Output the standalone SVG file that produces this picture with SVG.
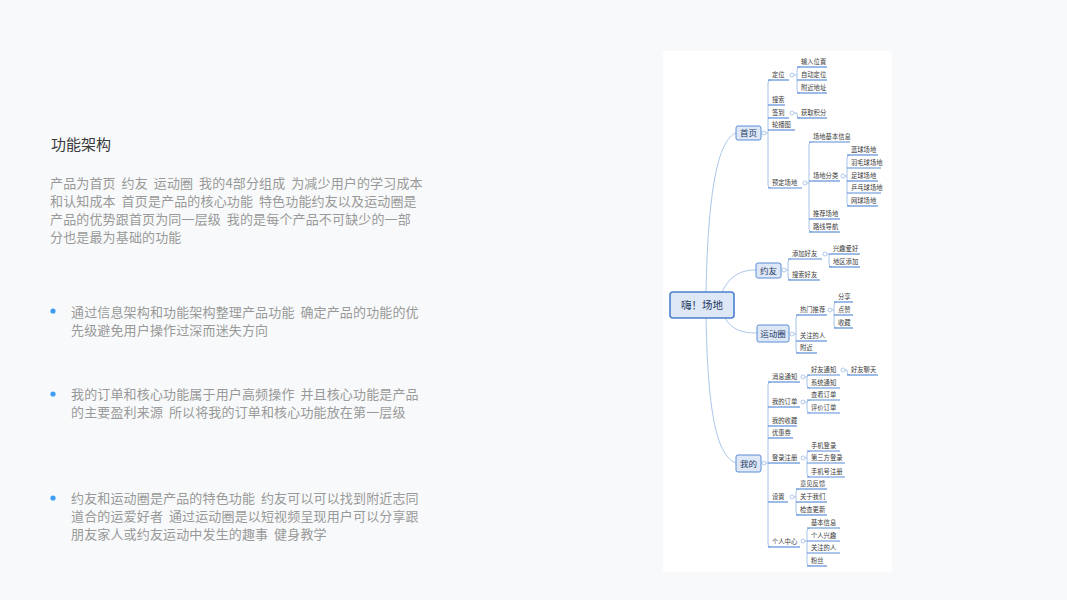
<svg xmlns="http://www.w3.org/2000/svg" width="1067" height="600" viewBox="0 0 1067 600">
<style>
.bg{fill:#f8f9fa}
.panel{fill:#ffffff}
.ttl{font-family:"Noto Sans CJK SC","Noto Sans",sans-serif;font-size:15px;fill:#3a3a3a}
.para{font-family:"Noto Sans CJK SC","Noto Sans",sans-serif;font-size:13px;fill:#999999;letter-spacing:0.15px;word-spacing:2.8px}
.dot{fill:#3d9df3}
.ul{stroke:#5b8ed8;stroke-width:1.2;fill:none}
.tk{fill:none;stroke:#9dbbe6;stroke-width:0.9}
.l0{fill:none;stroke:#abc5ea;stroke-width:1}
.cir{fill:#fff;stroke:#9dbbe6;stroke-width:0.8}
.lb{font-family:"Noto Sans CJK SC","Noto Sans",sans-serif;font-size:6.3px;fill:#3a3a3a}
.box{fill:#dde7f5;stroke:#5b8ed8;stroke-width:1}
.cbox{fill:#dde7f5;stroke:#4a80d0;stroke-width:1.6}
.l1t{font-family:"Noto Sans CJK SC","Noto Sans",sans-serif;font-size:8.5px;fill:#1e3a66;text-anchor:middle}
.ct{font-family:"Noto Sans CJK SC","Noto Sans",sans-serif;font-size:10.5px;fill:#1e3a66;text-anchor:middle}
</style>
<rect class="bg" x="0" y="0" width="1067" height="600"/>
<rect class="panel" x="663" y="51" width="229" height="521"/>

<g id="left-text">
<text class="ttl" x="51" y="149.5">功能架构</text>
<text class="para" x="50" y="188">产品为首页 约友 运动圈 我的4部分组成 为减少用户的学习成本</text>
<text class="para" x="50" y="206">和认知成本 首页是产品的核心功能 特色功能约友以及运动圈是</text>
<text class="para" x="50" y="224">产品的优势跟首页为同一层级 我的是每个产品不可缺少的一部</text>
<text class="para" x="50" y="242">分也是最为基础的功能</text>
<circle class="dot" cx="53" cy="311" r="2.6"/>
<text class="para" x="71" y="317">通过信息架构和功能架构整理产品功能 确定产品的功能的优</text>
<text class="para" x="71" y="335">先级避免用户操作过深而迷失方向</text>
<circle class="dot" cx="53" cy="394" r="2.6"/>
<text class="para" x="71" y="399">我的订单和核心功能属于用户高频操作 并且核心功能是产品</text>
<text class="para" x="71" y="417">的主要盈利来源 所以将我的订单和核心功能放在第一层级</text>
<circle class="dot" cx="53" cy="498" r="2.6"/>
<text class="para" x="71" y="503">约友和运动圈是产品的特色功能 约友可以可以找到附近志同</text>
<text class="para" x="71" y="521">道合的运爱好者 通过运动圈是以短视频呈现用户可以分享跟</text>
<text class="para" x="71" y="539">朋友家人或约友运动中发生的趣事 健身教学</text>
</g>

<g id="connectors">
<path class="l0" d="M706,292 C708,190 718,140 736,133"/>
<path class="l0" d="M706,318 C708,420 718,456 736,463"/>
<path class="l0" d="M722,292 C730,276 740,270 756,270"/>
<path class="l0" d="M725,318 C732,330 742,333 757,333"/>
<path class="tk" d="M766,133 H768 M771,80 Q768,80 768,83 V185 Q768,188 771,188"/>
<path class="tk" d="M794,75 H797 M800,67 Q797,67 797,70 V90 Q797,93 800,93"/>
<path class="tk" d="M794,113 H797 V115 Q797,118 800,118"/>
<path class="tk" d="M807,183 H809 M812,142 Q809,142 809,145 V229 Q809,232 812,232"/>
<path class="tk" d="M845,176 H847 M850,155 Q847,155 847,158 V203 Q847,206 850,206"/>
<path class="tk" d="M786,270 H788 M791,259 Q788,259 788,262 V277 Q788,280 791,280"/>
<path class="tk" d="M827,254 H829 M829,254 V264 Q829,267 832,267"/>
<path class="tk" d="M794,334 H796 M799,315 Q796,315 796,318 V350 Q796,353 799,353"/>
<path class="tk" d="M832,310 H834 M837,302 Q834,302 834,305 V325 Q834,328 837,328"/>
<path class="tk" d="M766,463 H768 M771,382 Q768,382 768,385 V544 Q768,547 771,547"/>
<path class="tk" d="M805,377 H807 M810,375 Q807,375 807,378 V385 Q807,388 810,388"/>
<path class="tk" d="M845,370 H847 V372 Q847,375 850,375"/>
<path class="tk" d="M805,402 H807 M810,400 Q807,400 807,403 V410 Q807,413 810,413"/>
<path class="tk" d="M805,458 H807 M810,451 Q807,451 807,454 V474 Q807,477 810,477"/>
<path class="tk" d="M794,497 H796 M799,489 Q796,489 796,492 V512 Q796,515 799,515"/>
<path class="tk" d="M805,541 H807 M810,528 Q807,528 807,531 V563 Q807,566 810,566"/>
<circle class="cir" cx="764" cy="133" r="2"/>
<circle class="cir" cx="792" cy="75" r="2"/>
<circle class="cir" cx="792" cy="113" r="2"/>
<circle class="cir" cx="805" cy="183" r="2"/>
<circle class="cir" cx="843" cy="176" r="2"/>
<circle class="cir" cx="784" cy="270" r="2"/>
<circle class="cir" cx="825" cy="254" r="2"/>
<circle class="cir" cx="792" cy="334" r="2"/>
<circle class="cir" cx="830" cy="310" r="2"/>
<circle class="cir" cx="764" cy="463" r="2"/>
<circle class="cir" cx="803" cy="377" r="2"/>
<circle class="cir" cx="843" cy="370" r="2"/>
<circle class="cir" cx="803" cy="402" r="2"/>
<circle class="cir" cx="803" cy="458" r="2"/>
<circle class="cir" cx="792" cy="497" r="2"/>
<circle class="cir" cx="803" cy="541" r="2"/>
</g>

<g id="root"><rect class="cbox" x="670" y="292" width="64" height="26" rx="3"/><text class="ct" x="702" y="309">嗨！场地</text></g>
<g id="shouye"><rect class="box" x="736" y="126" width="25" height="14" rx="2"/><text class="l1t" x="748.5" y="136">首页</text></g>
<g id="yueyou"><rect class="box" x="756" y="263" width="25" height="15" rx="2"/><text class="l1t" x="768.5" y="273.5">约友</text></g>
<g id="yundongquan"><rect class="box" x="757" y="325" width="32" height="17" rx="2"/><text class="l1t" x="773" y="336.5">运动圈</text></g>
<g id="wode"><rect class="box" x="736" y="455" width="25" height="17" rx="2"/><text class="l1t" x="748.5" y="466.5">我的</text></g>

<g id="dingwei"><line class="ul" x1="768" y1="80" x2="789" y2="80"/><text class="lb" x="772" y="77">定位</text></g>
<g id="shuru"><line class="ul" x1="797" y1="67" x2="827" y2="67"/><text class="lb" x="801" y="64">输入位置</text></g>
<g id="zidong"><line class="ul" x1="797" y1="80" x2="827" y2="80"/><text class="lb" x="801" y="77">自动定位</text></g>
<g id="fujindizhi"><line class="ul" x1="797" y1="93" x2="827" y2="93"/><text class="lb" x="801" y="90">附近地址</text></g>
<g id="sousuo"><line class="ul" x1="768" y1="105" x2="785" y2="105"/><text class="lb" x="772" y="102">搜索</text></g>
<g id="qiandao"><line class="ul" x1="768" y1="118" x2="789" y2="118"/><text class="lb" x="772" y="115">签到</text></g>
<g id="huoqu"><line class="ul" x1="797" y1="118" x2="827" y2="118"/><text class="lb" x="801" y="115">获取积分</text></g>
<g id="lunbo"><line class="ul" x1="768" y1="130" x2="795" y2="130"/><text class="lb" x="772" y="127">轮播图</text></g>
<g id="yuding"><line class="ul" x1="768" y1="188" x2="802" y2="188"/><text class="lb" x="772" y="185">预定场地</text></g>
<g id="jiben"><line class="ul" x1="809" y1="142" x2="850" y2="142"/><text class="lb" x="813" y="139">场地基本信息</text></g>
<g id="fenlei"><line class="ul" x1="809" y1="181" x2="840" y2="181"/><text class="lb" x="813" y="178">场地分类</text></g>
<g id="lanqiu"><line class="ul" x1="847" y1="155" x2="878" y2="155"/><text class="lb" x="851" y="152">蓝球场地</text></g>
<g id="yumao"><line class="ul" x1="847" y1="168" x2="881" y2="168"/><text class="lb" x="851" y="165">羽毛球场地</text></g>
<g id="zuqiu"><line class="ul" x1="847" y1="181" x2="878" y2="181"/><text class="lb" x="851" y="178">足球场地</text></g>
<g id="pingpang"><line class="ul" x1="847" y1="193" x2="881" y2="193"/><text class="lb" x="851" y="190">乒乓球场地</text></g>
<g id="wangqiu"><line class="ul" x1="847" y1="206" x2="878" y2="206"/><text class="lb" x="851" y="203">网球场地</text></g>
<g id="tuijian"><line class="ul" x1="809" y1="219" x2="840" y2="219"/><text class="lb" x="813" y="216">推荐场地</text></g>
<g id="luxian"><line class="ul" x1="809" y1="232" x2="840" y2="232"/><text class="lb" x="813" y="229">路线导航</text></g>

<g id="tianjia"><line class="ul" x1="788" y1="259" x2="822" y2="259"/><text class="lb" x="792" y="256">添加好友</text></g>
<g id="xingqu"><line class="ul" x1="829" y1="254" x2="860" y2="254"/><text class="lb" x="833" y="251">兴趣爱好</text></g>
<g id="diqu"><line class="ul" x1="829" y1="267" x2="860" y2="267"/><text class="lb" x="833" y="264">地区添加</text></g>
<g id="sousuohaoyou"><line class="ul" x1="788" y1="280" x2="820" y2="280"/><text class="lb" x="792" y="277">搜索好友</text></g>

<g id="remen"><line class="ul" x1="796" y1="315" x2="827" y2="315"/><text class="lb" x="800" y="312">热门推荐</text></g>
<g id="fenxiang"><line class="ul" x1="834" y1="302" x2="853" y2="302"/><text class="lb" x="838" y="299">分享</text></g>
<g id="dianzan"><line class="ul" x1="834" y1="315" x2="853" y2="315"/><text class="lb" x="838" y="312">点赞</text></g>
<g id="shoucang"><line class="ul" x1="834" y1="328" x2="853" y2="328"/><text class="lb" x="838" y="325">收藏</text></g>
<g id="guanzhu1"><line class="ul" x1="796" y1="341" x2="827" y2="341"/><text class="lb" x="800" y="338">关注的人</text></g>
<g id="fujin"><line class="ul" x1="796" y1="353" x2="817" y2="353"/><text class="lb" x="800" y="350">附近</text></g>

<g id="xiaoxi"><line class="ul" x1="768" y1="382" x2="800" y2="382"/><text class="lb" x="772" y="379">消息通知</text></g>
<g id="haoyoutongzhi"><line class="ul" x1="807" y1="375" x2="840" y2="375"/><text class="lb" x="811" y="372">好友通知</text></g>
<g id="haoyouliaotian"><line class="ul" x1="847" y1="375" x2="878" y2="375"/><text class="lb" x="851" y="372">好友聊天</text></g>
<g id="xitong"><line class="ul" x1="807" y1="388" x2="840" y2="388"/><text class="lb" x="811" y="385">系统通知</text></g>
<g id="dingdan"><line class="ul" x1="768" y1="407" x2="800" y2="407"/><text class="lb" x="772" y="404">我的订单</text></g>
<g id="chakan"><line class="ul" x1="807" y1="400" x2="840" y2="400"/><text class="lb" x="811" y="397">查看订单</text></g>
<g id="pingjia"><line class="ul" x1="807" y1="413" x2="840" y2="413"/><text class="lb" x="811" y="410">评价订单</text></g>
<g id="shoucang2"><line class="ul" x1="768" y1="426" x2="797" y2="426"/><text class="lb" x="772" y="423">我的收藏</text></g>
<g id="youhui"><line class="ul" x1="768" y1="438" x2="793" y2="438"/><text class="lb" x="772" y="435">优惠券</text></g>
<g id="denglu"><line class="ul" x1="768" y1="463" x2="800" y2="463"/><text class="lb" x="772" y="460">登录注册</text></g>
<g id="shouji"><line class="ul" x1="807" y1="451" x2="840" y2="451"/><text class="lb" x="811" y="448">手机登录</text></g>
<g id="disanfang"><line class="ul" x1="807" y1="463" x2="845" y2="463"/><text class="lb" x="811" y="460">第三方登录</text></g>
<g id="shoujihao"><line class="ul" x1="807" y1="477" x2="845" y2="477"/><text class="lb" x="811" y="474">手机号注册</text></g>
<g id="shezhi"><line class="ul" x1="768" y1="502" x2="788" y2="502"/><text class="lb" x="772" y="499">设置</text></g>
<g id="yijian"><line class="ul" x1="796" y1="489" x2="827" y2="489"/><text class="lb" x="800" y="486">意见反馈</text></g>
<g id="guanyu"><line class="ul" x1="796" y1="502" x2="827" y2="502"/><text class="lb" x="800" y="499">关于我们</text></g>
<g id="jiancha"><line class="ul" x1="796" y1="515" x2="827" y2="515"/><text class="lb" x="800" y="512">检查更新</text></g>
<g id="geren"><line class="ul" x1="768" y1="547" x2="800" y2="547"/><text class="lb" x="772" y="544">个人中心</text></g>
<g id="jibenxinxi"><line class="ul" x1="807" y1="528" x2="840" y2="528"/><text class="lb" x="811" y="525">基本信息</text></g>
<g id="gerenxingqu"><line class="ul" x1="807" y1="541" x2="840" y2="541"/><text class="lb" x="811" y="538">个人兴趣</text></g>
<g id="guanzhu2"><line class="ul" x1="807" y1="553" x2="840" y2="553"/><text class="lb" x="811" y="550">关注的人</text></g>
<g id="fensi"><line class="ul" x1="807" y1="566" x2="827" y2="566"/><text class="lb" x="811" y="563">粉丝</text></g>
</svg>
